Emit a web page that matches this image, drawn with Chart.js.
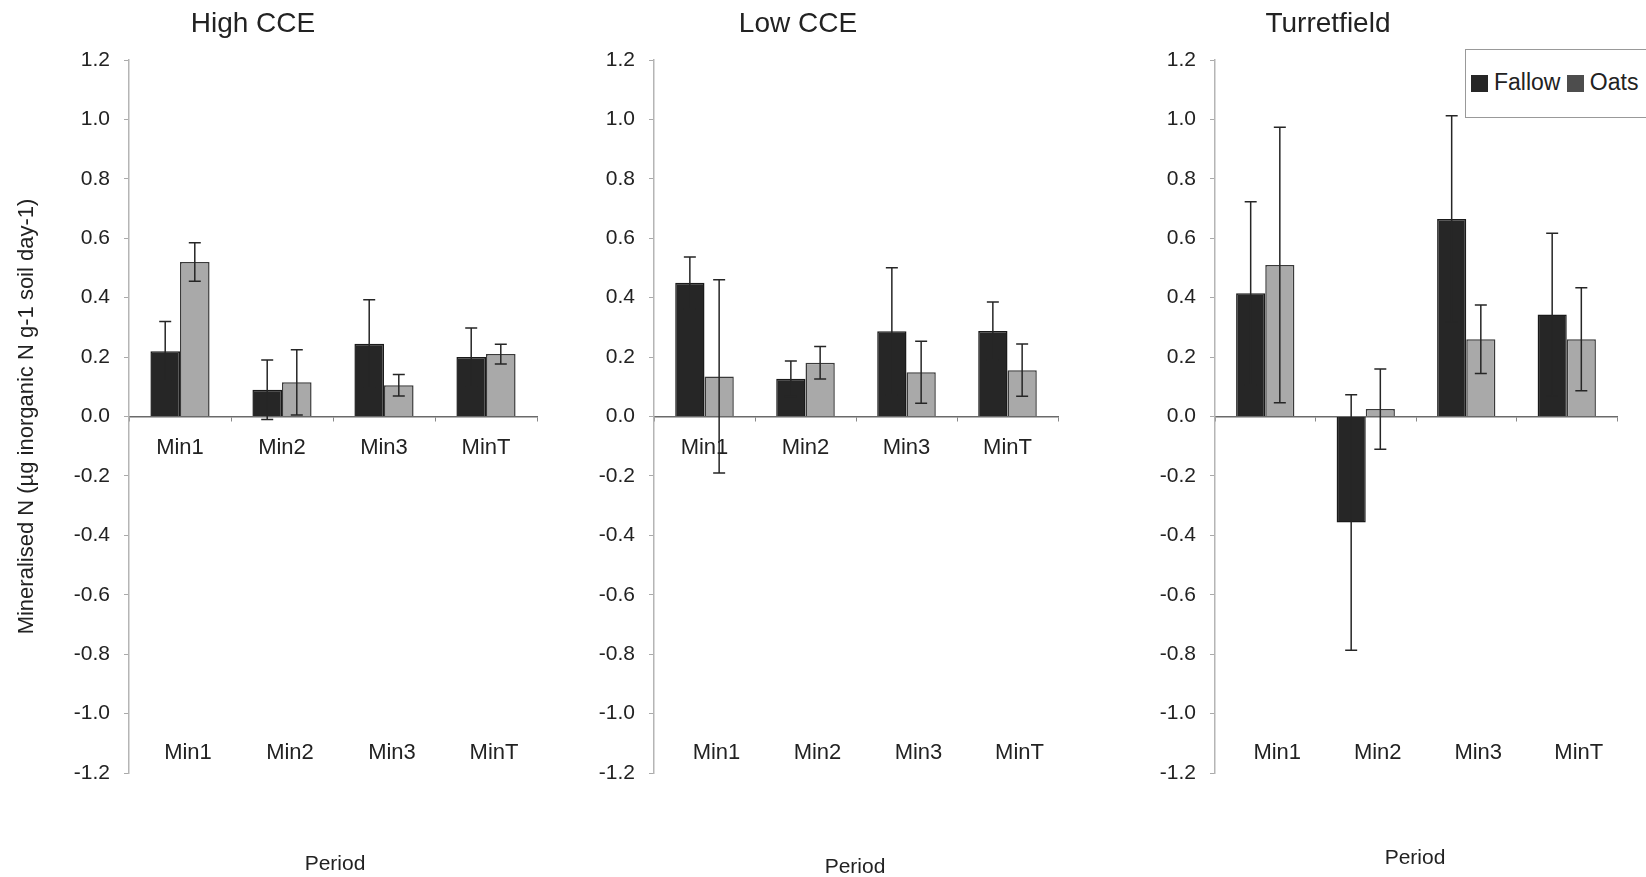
<!DOCTYPE html>
<html>
<head>
<meta charset="utf-8">
<script src="https://cdn.jsdelivr.net/npm/chart.js@4.4.0/dist/chart.umd.min.js"></script>
<style>
  body { margin: 0; background: #fff; }
  #page { position: relative; width: 1646px; height: 877px; overflow: hidden; font-family: 'Liberation Sans', Arial, sans-serif; color: #222; }
  canvas { position: absolute; top: 0; }
  .title { position: absolute; width: 300px; text-align: center; font-size: 28px; line-height: 1; }
  .period { position: absolute; width: 200px; text-align: center; font-size: 21px; line-height: 1; }
  #legend { position: absolute; left: 1465px; top: 49px; width: 185px; height: 69px; border: 1px solid #999; background: #fff;
            box-sizing: border-box; padding: 21px 0 0 5px; font-size: 23px; line-height: 23px; white-space: nowrap; }
  .sw { display: inline-block; width: 17px; height: 17px; vertical-align: -2px; margin-right: 6px; }
</style>
</head>
<body>
<div id="page">
  <canvas id="high" width="560" height="877" style="left:0px"></canvas>
  <canvas id="low" width="540" height="877" style="left:560px"></canvas>
  <canvas id="turret" width="546" height="877" style="left:1100px"></canvas>

  <div class="title" style="left:103px; top:9px">High CCE</div>
  <div class="title" style="left:648px; top:9px">Low CCE</div>
  <div class="title" style="left:1178px; top:9px">Turretfield</div>

  <div class="period" style="left:235px; top:852px">Period</div>
  <div class="period" style="left:755px; top:855px">Period</div>
  <div class="period" style="left:1315px; top:846px">Period</div>

  <div id="legend"><span class="sw" style="background:#262626"></span>Fallow <span class="sw" style="background:#4d4d4d"></span>Oats</div>
</div>

<script>
// categories and y tick values
const periods = ['Min1', 'Min2', 'Min3', 'MinT'];
const yTickValues = [-1.2, -1.0, -0.8, -0.6, -0.4, -0.2, 0, 0.2, 0.4, 0.6, 0.8, 1.0, 1.2];

// high CCE (means and error bars)
const highFallow = [0.22, 0.09, 0.245, 0.20];
const highFallowErr = [0.10, 0.10, 0.148, 0.098];
const highOats = [0.52, 0.115, 0.105, 0.21];
const highOatsErr = [0.065, 0.11, 0.036, 0.033];

// low CCE
const lowFallow = [0.45, 0.127, 0.287, 0.288];
const lowFallowErr = [0.087, 0.06, 0.214, 0.097];
const lowOats = [0.135, 0.181, 0.149, 0.156];
const lowOatsErr = [0.325, 0.055, 0.104, 0.088];

// turretfield
const turretFallow = [0.415, -0.357, 0.665, 0.343];
const turretFallowErr = [0.308, 0.43, 0.347, 0.274];
const turretOats = [0.51, 0.025, 0.26, 0.26];
const turretOatsErr = [0.464, 0.135, 0.115, 0.173];

Chart.defaults.font.family = "'Liberation Sans', Arial, sans-serif";
Chart.defaults.color = '#222';

// draws the +/- error bars on top of each bar
// (same colour as the fallow bars so the part inside them disappears, like the original)
const errorBars = {
  id: 'errorBars',
  afterDatasetsDraw(chart) {
    const ctx = chart.ctx;
    const yScale = chart.scales.y;
    ctx.save();
    ctx.strokeStyle = '#262626';
    ctx.lineWidth = 1.5;
    chart.data.datasets.forEach((ds, i) => {
      const meta = chart.getDatasetMeta(i);
      meta.data.forEach((bar, j) => {
        const hi = yScale.getPixelForValue(ds.data[j] + ds.err[j]);
        const lo = yScale.getPixelForValue(ds.data[j] - ds.err[j]);
        const x = bar.x;
        ctx.beginPath();
        ctx.moveTo(x, hi); ctx.lineTo(x, lo);
        ctx.moveTo(x - 6, hi); ctx.lineTo(x + 6, hi);
        ctx.moveTo(x - 6, lo); ctx.lineTo(x + 6, lo);
        ctx.stroke();
      });
    });
    ctx.restore();
  }
};

function makePanel(canvasId, fallow, fallowErr, oats, oatsErr, pad, axisWidth, yTitle, zeroLabels, bottomShift) {
  new Chart(document.getElementById(canvasId).getContext('2d'), {
    type: 'bar',
    data: {
      labels: periods,
      datasets: [{
        label: 'Fallow',
        data: fallow,
        err: fallowErr,
        backgroundColor: '#262626',
        borderColor: '#1a1a1a',
        borderWidth: 1.5,
        xAxisID: 'x'
      }, {
        label: 'Oats',
        data: oats,
        err: oatsErr,
        backgroundColor: '#a9a9a9',
        borderColor: '#3a3a3a',
        borderWidth: 1.5,
        xAxisID: 'x'
      }]
    },
    options: {
      responsive: false,
      animation: false,
      categoryPercentage: 0.58,
      barPercentage: 1.0,
      layout: { padding: pad },
      plugins: { legend: { display: false }, tooltip: { enabled: false } },
      scales: {
        x: {
          position: { y: 0 },
          grid: { display: true, drawOnChartArea: false, tickLength: 4, color: '#888' },
          border: { display: true, color: '#6a6a6a', width: 1.5 },
          ticks: { display: zeroLabels, font: { size: 22 }, padding: 14 }
        },
        x2: {
          type: 'category',
          position: { y: -1 },
          grid: { display: false, drawTicks: false },
          border: { display: false },
          ticks: { font: { size: 22 }, padding: 26, labelOffset: bottomShift }
        },
        y: {
          min: -1.2,
          max: 1.2,
          afterBuildTicks: scale => { scale.ticks = yTickValues.map(v => ({ value: v })); },
          afterFit: scale => { scale.width = axisWidth; },
          grid: { display: true, drawOnChartArea: false, tickLength: 5, color: '#aaa' },
          border: { display: true, color: '#b5b5b5', width: 1.5 },
          ticks: {
            font: { size: 21 },
            padding: 14,
            callback: v => v.toFixed(1)
          },
          title: {
            display: !!yTitle,
            text: yTitle,
            font: { size: 22 },
            color: '#222'
          }
        }
      }
    },
    plugins: [errorBars]
  });
}

makePanel('high', highFallow, highFallowErr, highOats, highOatsErr,
  { left: 10, right: 23, top: 60, bottom: 104 }, 119, 'Mineralised N (\u00b5g inorganic N g-1 soil day-1)', true, 8);
makePanel('low', lowFallow, lowFallowErr, lowOats, lowOatsErr,
  { left: 34, right: 42, top: 60, bottom: 104 }, 60, '', true, 12);
makePanel('turret', turretFallow, turretFallowErr, turretOats, turretOatsErr,
  { left: 55, right: 29, top: 60, bottom: 104 }, 60, '', false, 12);
</script>
</body>
</html>
